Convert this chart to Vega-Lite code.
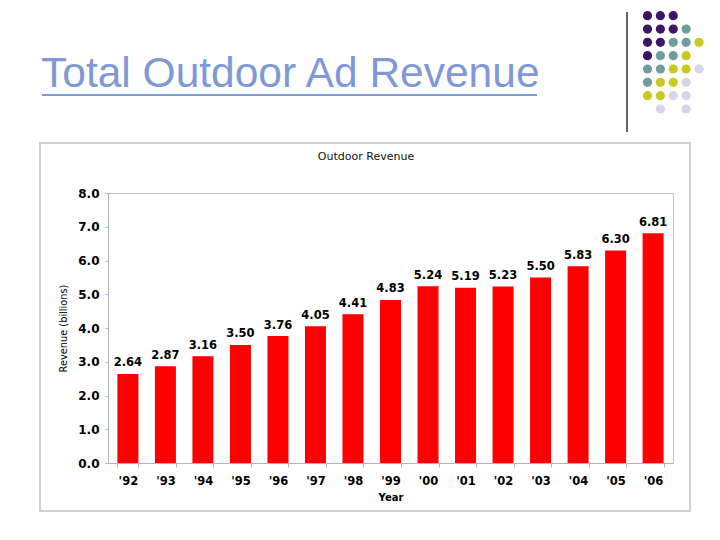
{
  "$schema": "https://vega.github.io/schema/vega-lite/v6.json",
  "width": 565,
  "height": 270,
  "autosize": {"type": "none"},
  "padding": {"left": 108, "top": 193, "right": 47, "bottom": 77},
  "background": "white",
  "config": {"view": {"stroke": "#c4c4c4", "strokeWidth": 1}},
  "resolve": {"scale": {"x": "independent", "y": "independent", "color": "independent"}},
  "layer": [
    {
      "data": {"values": [{}]},
      "layer": [
        {
          "mark": {"type": "rect", "fill": "white", "fillOpacity": 0, "stroke": "#cfcfcf", "strokeWidth": 2},
          "encoding": {
            "x": {"datum": 40, "type": "quantitative", "scale": {"domain": [0, 720], "range": [-108, 612], "nice": false, "zero": false}, "axis": null},
            "x2": {"datum": 690},
            "y": {"datum": 143, "type": "quantitative", "scale": {"domain": [0, 540], "range": [-193, 347], "nice": false, "zero": false}, "axis": null},
            "y2": {"datum": 511}
          }
        },
        {
          "mark": {"type": "text", "text": "Total Outdoor Ad Revenue", "align": "left", "baseline": "alphabetic", "font": "Liberation Sans", "fontSize": 42.5, "color": "#7f99d8"},
          "encoding": {
            "x": {"datum": 41, "type": "quantitative", "scale": {"domain": [0, 720], "range": [-108, 612], "nice": false, "zero": false}, "axis": null},
            "y": {"datum": 87, "type": "quantitative", "scale": {"domain": [0, 540], "range": [-193, 347], "nice": false, "zero": false}, "axis": null}
          }
        },
        {
          "mark": {"type": "rule", "color": "#7f99d8", "strokeWidth": 2.2},
          "encoding": {
            "x": {"datum": 42, "type": "quantitative", "scale": {"domain": [0, 720], "range": [-108, 612], "nice": false, "zero": false}, "axis": null},
            "x2": {"datum": 537},
            "y": {"datum": 95, "type": "quantitative", "scale": {"domain": [0, 540], "range": [-193, 347], "nice": false, "zero": false}, "axis": null}
          }
        },
        {
          "mark": {"type": "rule", "color": "#000000", "strokeWidth": 1.2},
          "encoding": {
            "x": {"datum": 627, "type": "quantitative", "scale": {"domain": [0, 720], "range": [-108, 612], "nice": false, "zero": false}, "axis": null},
            "y": {"datum": 12, "type": "quantitative", "scale": {"domain": [0, 540], "range": [-193, 347], "nice": false, "zero": false}, "axis": null},
            "y2": {"datum": 132}
          }
        },
        {
          "mark": {"type": "text", "text": "Outdoor Revenue", "align": "center", "baseline": "middle", "font": "DejaVu Sans", "fontSize": 11, "color": "#111111"},
          "encoding": {
            "x": {"datum": 366, "type": "quantitative", "scale": {"domain": [0, 720], "range": [-108, 612], "nice": false, "zero": false}, "axis": null},
            "y": {"datum": 157, "type": "quantitative", "scale": {"domain": [0, 540], "range": [-193, 347], "nice": false, "zero": false}, "axis": null}
          }
        }
      ]
    },
    {
      "data": {"values": [
        {"r": 0, "c": 0, "k": "purple"}, {"r": 0, "c": 1, "k": "purple"}, {"r": 0, "c": 2, "k": "purple"},
        {"r": 1, "c": 0, "k": "purple"}, {"r": 1, "c": 1, "k": "purple"}, {"r": 1, "c": 2, "k": "purple"}, {"r": 1, "c": 3, "k": "teal"},
        {"r": 2, "c": 0, "k": "purple"}, {"r": 2, "c": 1, "k": "purple"}, {"r": 2, "c": 2, "k": "teal"}, {"r": 2, "c": 3, "k": "teal"}, {"r": 2, "c": 4, "k": "yellow"},
        {"r": 3, "c": 0, "k": "purple"}, {"r": 3, "c": 1, "k": "teal"}, {"r": 3, "c": 2, "k": "teal"}, {"r": 3, "c": 3, "k": "yellow"},
        {"r": 4, "c": 0, "k": "teal"}, {"r": 4, "c": 1, "k": "teal"}, {"r": 4, "c": 2, "k": "yellow"}, {"r": 4, "c": 3, "k": "yellow"}, {"r": 4, "c": 4, "k": "lavender"},
        {"r": 5, "c": 0, "k": "teal"}, {"r": 5, "c": 1, "k": "yellow"}, {"r": 5, "c": 2, "k": "yellow"}, {"r": 5, "c": 3, "k": "lavender"},
        {"r": 6, "c": 0, "k": "yellow"}, {"r": 6, "c": 1, "k": "yellow"}, {"r": 6, "c": 2, "k": "lavender"}, {"r": 6, "c": 3, "k": "lavender"},
        {"r": 7, "c": 1, "k": "lavender"}, {"r": 7, "c": 3, "k": "lavender"}
      ]},
      "mark": {"type": "circle", "size": 85, "opacity": 1},
      "encoding": {
        "x": {"field": "c", "type": "quantitative", "scale": {"domain": [0, 4], "range": [539.5, 591], "nice": false, "zero": false}, "axis": null},
        "y": {"field": "r", "type": "quantitative", "scale": {"domain": [0, 7], "range": [-177.3, -84], "nice": false, "zero": false}, "axis": null},
        "color": {"field": "k", "type": "nominal", "scale": {"domain": ["purple", "teal", "yellow", "lavender"], "range": ["#3d1468", "#6f9d9f", "#c9c922", "#d6d6ea"]}, "legend": null}
      }
    },
    {
      "data": {"values": [
        {"year": "'92", "revenue": 2.64},
        {"year": "'93", "revenue": 2.87},
        {"year": "'94", "revenue": 3.16},
        {"year": "'95", "revenue": 3.50},
        {"year": "'96", "revenue": 3.76},
        {"year": "'97", "revenue": 4.05},
        {"year": "'98", "revenue": 4.41},
        {"year": "'99", "revenue": 4.83},
        {"year": "'00", "revenue": 5.24},
        {"year": "'01", "revenue": 5.19},
        {"year": "'02", "revenue": 5.23},
        {"year": "'03", "revenue": 5.50},
        {"year": "'04", "revenue": 5.83},
        {"year": "'05", "revenue": 6.30},
        {"year": "'06", "revenue": 6.81}
      ]},
      "encoding": {
        "x": {
          "field": "year", "type": "ordinal", "sort": null,
          "scale": {"paddingInner": 0.44, "paddingOuter": 0.25},
          "axis": {
            "title": "Year", "titleFont": "DejaVu Sans", "titleFontWeight": "bold", "titleFontSize": 10, "titleColor": "#000000", "titlePadding": 6,
            "labelFont": "DejaVu Sans", "labelFontWeight": "bold", "labelFontSize": 11.5, "labelColor": "#000000", "labelAngle": 0, "labelPadding": 8,
            "tickBand": "extent", "tickSize": 4, "tickColor": "#b4b4b4", "domainColor": "#b4b4b4", "grid": false
          }
        },
        "y": {
          "field": "revenue", "type": "quantitative",
          "scale": {"domain": [0, 8], "nice": false},
          "axis": {
            "title": "Revenue (billions)", "titleFont": "DejaVu Sans", "titleFontWeight": "normal", "titleFontSize": 9.8, "titleColor": "#000000", "titlePadding": 9,
            "values": [0, 1, 2, 3, 4, 5, 6, 7, 8], "tickCount": 12, "format": ".1f", "labelOverlap": false, "labelFlush": false,
            "labelFont": "DejaVu Sans", "labelFontWeight": "bold", "labelFontSize": 12, "labelColor": "#000000", "labelPadding": 6,
            "tickSize": 3, "tickColor": "#b4b4b4", "domainColor": "#b4b4b4", "gridColor": "#c8c8c8", "gridWidth": 1
          }
        }
      },
      "layer": [
        {
          "mark": {"type": "bar", "color": "#ff0000"}
        },
        {
          "mark": {"type": "text", "dy": -10.5, "baseline": "middle", "font": "DejaVu Sans", "fontWeight": "bold", "fontSize": 11.5, "color": "#000000"},
          "encoding": {
            "text": {"field": "revenue", "type": "quantitative", "format": ".2f"}
          }
        }
      ]
    }
  ]
}
